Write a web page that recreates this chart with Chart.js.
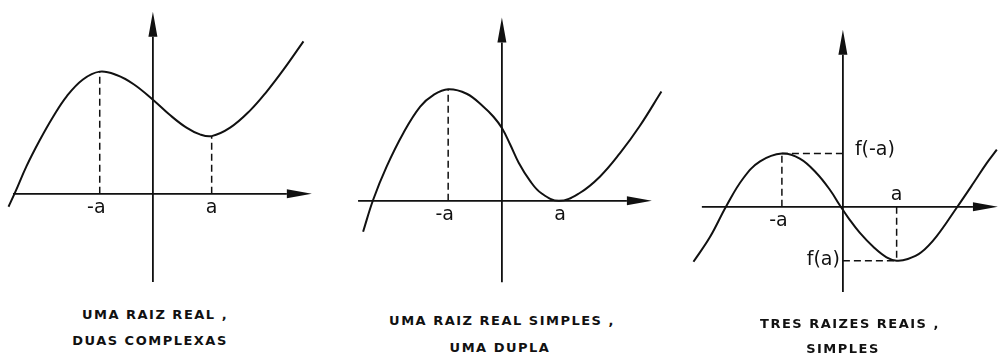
<!DOCTYPE html>
<html>
<head>
<meta charset="utf-8">
<script src="https://cdn.jsdelivr.net/npm/chart.js@4.4.0/dist/chart.umd.min.js"></script>
<style>
  html, body { margin: 0; padding: 0; background: #fff; }
  body { width: 998px; height: 359px; position: relative; overflow: hidden; }
  .painel { position: absolute; width: 347px; height: 314px; }
  .legenda {
    position: absolute; transform: translateX(-50%); white-space: nowrap;
    font: bold 13px "DejaVu Sans"; letter-spacing: 1.5px; line-height: 14px; color: #111;
  }
</style>
</head>
<body>
<div class="painel" style="left:-15px; top:-8px"><canvas id="graf1"></canvas></div>
<div class="painel" style="left:334px; top:-1px"><canvas id="graf2"></canvas></div>
<div class="painel" style="left:675px; top:5px"><canvas id="graf3"></canvas></div>

<div class="legenda" style="left:155px; top:308px">UMA RAIZ REAL ,</div>
<div class="legenda" style="left:150px; top:334px">DUAS COMPLEXAS</div>
<div class="legenda" style="left:502px; top:314px">UMA RAIZ REAL SIMPLES ,</div>
<div class="legenda" style="left:500px; top:341px">UMA DUPLA</div>
<div class="legenda" style="left:850px; top:317px">TRES RAIZES REAIS ,</div>
<div class="legenda" style="left:843px; top:342px">SIMPLES</div>

<script>
// valores (x em unidades de a)
const rotulos = ['-a', 'a'];

// 1 - uma raiz real, duas complexas
const curva1 = [[-2.58, -0.23], [-2.46, 0.03], [-2.26, 0.49], [-2.02, 0.96], [-1.78, 1.38], [-1.54, 1.74],
    [-1.25, 2.04], [-0.95, 2.18], [-0.65, 2.12], [-0.35, 1.96], [0, 1.68], [0.3, 1.41], [0.6, 1.18],
    [0.84, 1.06], [1.05, 1.03], [1.38, 1.18], [1.73, 1.48], [2.03, 1.82], [2.33, 2.21], [2.69, 2.72]];
const extremos1 = [[-0.95, 2.18], [1.05, 1.03]];
const ticks1 = [-0.95, 1.05];
const eixoX1 = [-2.5, 2.84];
const eixoY1 = [-1.57, 3.25];

// 2 - uma raiz real simples, uma dupla
const curva2 = [[-2.48, -0.55], [-2.3, 0.02], [-2.06, 0.61], [-1.76, 1.21], [-1.46, 1.68], [-1.22, 1.89],
    [-0.96, 1.99], [-0.63, 1.91], [-0.33, 1.68], [-0.15, 1.5], [0, 1.3], [0.15, 1.0], [0.3, 0.68],
    [0.5, 0.36], [0.7, 0.14], [1.02, 0], [1.39, 0.14], [1.75, 0.43], [2.11, 0.85], [2.46, 1.33], [2.85, 1.95]];
const extremos2 = [[-0.96, 1.99]];
const ticks2 = [-0.96, 1.04];
const eixoX2 = [-2.57, 2.68];
const eixoY2 = [-1.45, 3.27];

// 3 - tres raizes reais simples
const curva3 = [[-2.67, -0.98], [-2.37, -0.53], [-2.08, 0.02], [-1.78, 0.51], [-1.48, 0.81], [-1.09, 0.95],
    [-0.77, 0.86], [-0.47, 0.6], [-0.23, 0.3], [-0.05, 0.02], [0.1, -0.2], [0.3, -0.46], [0.56, -0.73],
    [0.78, -0.9], [0.96, -0.96], [1.16, -0.93], [1.4, -0.81], [1.67, -0.53], [2.03, -0.02], [2.33, 0.42],
    [2.57, 0.78], [2.75, 1.02]];
const extremos3 = [[-1.09, 0.95], [0.96, -0.96]];
const ticks3 = [-1.09, 0.96];
const eixoX3 = [-2.52, 2.77];
const eixoY3 = [-1.52, 3.16];
const rotulosF = ['f(-a)', 'f(a)'];

const tinta = '#111';
const ponto = p => ({ x: p[0], y: p[1] });

// desenha os eixos com setas e os rotulos
const eixos = {
    id: 'eixos',
    beforeDatasetsDraw(chart, args, o) {
        const { ctx, scales: { x, y } } = chart;
        const x0 = x.getPixelForValue(0), y0 = y.getPixelForValue(0);
        const xa = x.getPixelForValue(o.eixoX[0]), xb = x.getPixelForValue(o.eixoX[1]);
        const ya = y.getPixelForValue(o.eixoY[0]), yb = y.getPixelForValue(o.eixoY[1]);
        const L = 25, w = 4.5;
        ctx.save();
        ctx.strokeStyle = tinta;
        ctx.fillStyle = tinta;
        ctx.lineWidth = 1.8;
        ctx.beginPath();
        ctx.moveTo(xa, y0); ctx.lineTo(xb - L, y0);
        ctx.moveTo(x0, ya); ctx.lineTo(x0, yb + L);
        ctx.stroke();
        ctx.beginPath();
        ctx.moveTo(xb, y0); ctx.lineTo(xb - L, y0 - w); ctx.lineTo(xb - L, y0 + w); ctx.closePath();
        ctx.moveTo(x0, yb); ctx.lineTo(x0 - w, yb + L); ctx.lineTo(x0 + w, yb + L); ctx.closePath();
        ctx.fill();

        ctx.font = '19px "DejaVu Sans"';
        ctx.textBaseline = 'middle';
        const meioA = ctx.measureText('a').width / 2;
        o.ticks.forEach((v, i) => {
            const px = x.getPixelForValue(v);
            const py = o.lados[i] === 'acima' ? y0 - 12 : y0 + 14;
            ctx.textAlign = 'right';
            ctx.fillText(rotulos[i], px + meioA, py);
        });
        if (o.rotulosF) {
            ctx.textAlign = 'left';
            ctx.fillText(o.rotulosF[0], x0 + 12, y.getPixelForValue(o.extremos[0][1]) - 4);
            ctx.textAlign = 'right';
            ctx.fillText(o.rotulosF[1], x0 - 3, y.getPixelForValue(o.extremos[1][1]) - 1);
        }
        ctx.restore();
    }
};

function criaGrafico(id, curva, extremos, ticks, eixoX, eixoY, extra) {
    const tracejado = { borderColor: tinta, borderWidth: 1.5, borderDash: [7, 4], pointRadius: 0, showLine: true, fill: false };
    const guias = extremos.map(p => Object.assign({ data: [{ x: p[0], y: 0 }, ponto(p)] }, tracejado));
    if (extra && extra.horizontais) {
        extremos.forEach(p => guias.push(Object.assign({ data: [{ x: 0, y: p[1] }, ponto(p)] }, tracejado)));
    }
    return new Chart(document.getElementById(id), {
        type: 'scatter',
        data: {
            datasets: [{
                data: curva.map(ponto),
                borderColor: tinta,
                borderWidth: 2,
                showLine: true,
                pointRadius: 0,
                tension: 0.4,
                fill: false
            }].concat(guias)
        },
        options: {
            responsive: true,
            maintainAspectRatio: false,
            animation: false,
            layout: { padding: 0 },
            plugins: {
                legend: { display: false },
                tooltip: { enabled: false },
                eixos: {
                    eixoX: eixoX, eixoY: eixoY, ticks: ticks, extremos: extremos,
                    lados: (extra && extra.lados) || ['abaixo', 'abaixo'],
                    rotulosF: extra && extra.rotulosF
                }
            },
            scales: {
                x: { type: 'linear', min: -3, max: 3.2, display: false },
                y: { type: 'linear', min: -2, max: 3.6, display: false }
            }
        },
        plugins: [eixos]
    });
}

criaGrafico('graf1', curva1, extremos1, ticks1, eixoX1, eixoY1);
criaGrafico('graf2', curva2, extremos2, ticks2, eixoX2, eixoY2);
criaGrafico('graf3', curva3, extremos3, ticks3, eixoX3, eixoY3,
    { horizontais: true, lados: ['abaixo', 'acima'], rotulosF: rotulosF });
</script>
</body>
</html>
